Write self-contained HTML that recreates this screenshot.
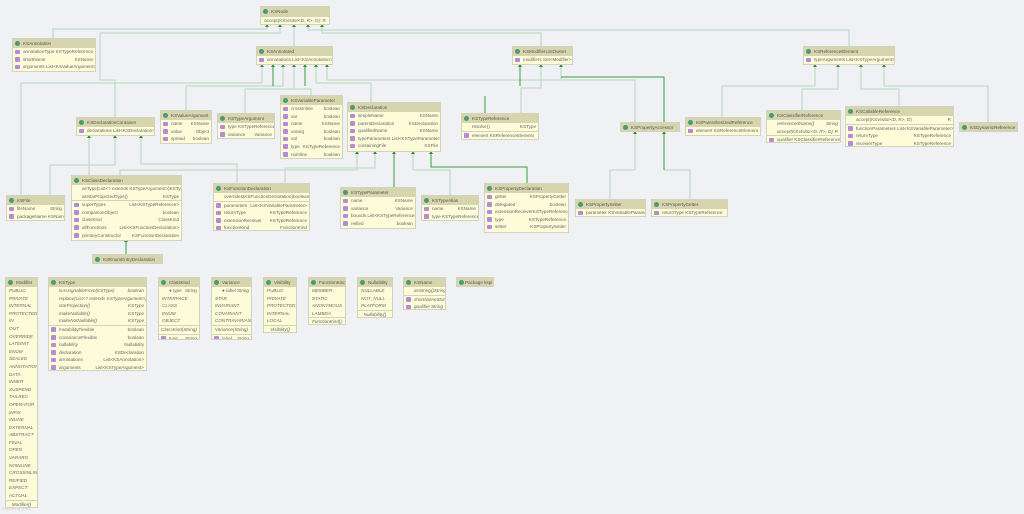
<!DOCTYPE html>
<html><head><meta charset="utf-8">
<style>
body{margin:0;width:1024px;height:514px;background:#eff1f5;position:relative;overflow:hidden;font-family:"Liberation Sans",sans-serif}
svg{position:absolute;left:0;top:0}
.b{position:absolute;background:#fdfcd9;border:1px solid #d3d3bc;font-size:4.6px;color:#666;overflow:hidden;box-sizing:border-box}
.h{background:#d7d5ad;height:9px;line-height:9px;padding-left:10px;position:relative;color:#555;white-space:nowrap}
.h::before{content:"";position:absolute;left:2px;top:2px;width:5px;height:5px;border-radius:50%;background:#4a9a7a}
.r{height:7.6px;line-height:7.6px;padding:0 2px 0 10px;display:flex;justify-content:space-between;position:relative;white-space:nowrap}
.r.p::before{content:"";position:absolute;left:2px;top:1.5px;width:4.5px;height:4.5px;border-radius:1px;background:#b58ad6}
.s{border-top:1px solid #d3d3bc}
.i{font-style:italic}
.c{justify-content:center;padding-left:2px}
</style></head><body>
<svg width="1024" height="514">
<g fill="none" stroke="#b5d8bc" stroke-width="1">
<polyline points="53,38 53,29 267,29 267,25"/>
<polyline points="100,33 280,33 280,25"/>
<polyline points="115,117 115,80 100,80 100,33"/>
<polyline points="294,46 294,25"/>
<polyline points="308,25 308,30 849,30 849,46"/>
<polyline points="322,25 322,33 541,33 541,46"/>
<polyline points="21,195 21,83 262,83 262,65"/>
<polyline points="186,110 186,86 283,86 283,65"/>
<polyline points="245,113 245,89 294,89 294,65"/>
<polyline points="311,95 311,89 294,89"/>
<polyline points="371,102 371,83 316,83 316,65"/>
<polyline points="327,65 327,80 560,80"/>
<polyline points="521,113 521,88 541,88 541,65"/>
<polyline points="635,122 635,80 561,80 561,65"/>
<polyline points="815,65 815,86 722,86 722,117"/>
<polyline points="838,65 838,89 802,89 802,110"/>
<polyline points="861,65 861,89 899,89 899,106"/>
<polyline points="884,65 884,86 988,86 988,122"/>
<polyline points="50,195 50,165 115,165 115,136"/>
<polyline points="89,175 89,136"/>
<polyline points="237,183 237,164 141,164 141,136"/>
<polyline points="357,152 357,170 120,170 120,175"/>
<polyline points="375,152 375,168 285,168 285,183"/>
<polyline points="413,152 413,170 450,170 450,195"/>
<polyline points="610,199 610,170 635,170 635,132"/>
<polyline points="690,199 690,170 664,170"/>
</g>
<g fill="none" stroke="#3a9e3a" stroke-width="1">
<polyline points="273,65 273,86"/>
<polyline points="305,65 305,86"/>
<polyline points="520,65 520,86"/>
<polyline points="561,77 664,77 664,122"/>
<polyline points="664,132 664,170"/>
<polyline points="394,152 394,187"/>
<polyline points="431,152 431,167 527,167 527,183"/>
<polyline points="126,240 126,254"/>
<polyline points="485,96 485,113"/>
</g>
<g fill="#2e8f2e">
<path d="M265,27l2,-3l2,3z M278,27l2,-3l2,3z M292,27l2,-3l2,3z M306,27l2,-3l2,3z M320,27l2,-3l2,3z"/>
<path d="M260,67l2,-3l2,3z M271,67l2,-3l2,3z M281,67l2,-3l2,3z M292,67l2,-3l2,3z M303,67l2,-3l2,3z M314,67l2,-3l2,3z M325,67l2,-3l2,3z"/>
<path d="M518,67l2,-3l2,3z M539,67l2,-3l2,3z M559,67l2,-3l2,3z"/>
<path d="M813,67l2,-3l2,3z M836,67l2,-3l2,3z M859,67l2,-3l2,3z M882,67l2,-3l2,3z"/>
<path d="M87,138l2,-3l2,3z M113,138l2,-3l2,3z M139,138l2,-3l2,3z"/>
<path d="M355,154l2,-3l2,3z M373,154l2,-3l2,3z M392,154l2,-3l2,3z M411,154l2,-3l2,3z M429,154l2,-3l2,3z"/>
<path d="M633,134l2,-3l2,3z M662,134l2,-3l2,3z M124,242l2,-3l2,3z"/>
</g>
</svg>

<div class="b" style="left:260px;top:6px;width:70px;height:19px"><div class="h">KSNode</div><div class="r c s">accept(KSVisitor&lt;D, R&gt;, D): R</div></div>
<div class="b" style="left:12px;top:38px;width:84px;height:34px"><div class="h">KSAnnotation</div><div class="r p"><span>annotationType</span><span>KSTypeReference</span></div><div class="r p"><span>shortName</span><span>KSName</span></div><div class="r p"><span>arguments List&lt;KSValueArgument&gt;</span></div></div>
<div class="b" style="left:256px;top:46px;width:77px;height:19px"><div class="h">KSAnnotated</div><div class="r p"><span>annotations List&lt;KSAnnotation&gt;</span></div></div>
<div class="b" style="left:512px;top:46px;width:61px;height:19px"><div class="h">KSModifierListOwner</div><div class="r p"><span>modifiers Set&lt;Modifier&gt;</span></div></div>
<div class="b" style="left:803px;top:46px;width:92px;height:19px"><div class="h">KSReferenceElement</div><div class="r p"><span>typeArguments List&lt;KSTypeArgument&gt;</span></div></div>
<div class="b" style="left:160px;top:110px;width:52px;height:34px"><div class="h">KSValueArgument</div><div class="r p"><span>name</span><span>KSName</span></div><div class="r p"><span>value</span><span>Object</span></div><div class="r p"><span>spread</span><span>boolean</span></div></div>
<div class="b" style="left:217px;top:113px;width:58px;height:26px"><div class="h">KSTypeArgument</div><div class="r p"><span>type KSTypeReference</span></div><div class="r p"><span>variance</span><span>Variance</span></div></div>
<div class="b" style="left:280px;top:95px;width:63px;height:64px"><div class="h">KSVariableParameter</div><div class="r p"><span>crossInline</span><span>boolean</span></div><div class="r p"><span>var</span><span>boolean</span></div><div class="r p"><span>name</span><span>KSName</span></div><div class="r p"><span>vararg</span><span>boolean</span></div><div class="r p"><span>val</span><span>boolean</span></div><div class="r p"><span>type</span><span>KSTypeReference</span></div><div class="r p"><span>noInline</span><span>boolean</span></div></div>
<div class="b" style="left:347px;top:102px;width:94px;height:50px"><div class="h">KSDeclaration</div><div class="r p"><span>simpleName</span><span>KSName</span></div><div class="r p"><span>parentDeclaration</span><span>KSDeclaration</span></div><div class="r p"><span>qualifiedName</span><span>KSName</span></div><div class="r p"><span>typeParameters List&lt;KSTypeParameter&gt;</span></div><div class="r p"><span>containingFile</span><span>KSFile</span></div></div>
<div class="b" style="left:461px;top:113px;width:78px;height:27px"><div class="h">KSTypeReference</div><div class="r"><span>resolve()</span><span>KSType</span></div><div class="r p s"><span>element KSReferenceElement</span></div></div>
<div class="b" style="left:76px;top:117px;width:79px;height:19px"><div class="h">KSDeclarationContainer</div><div class="r p"><span>declarations List&lt;KSDeclaration&gt;</span></div></div>
<div class="b" style="left:620px;top:122px;width:60px;height:10px"><div class="h">KSPropertyAccessor</div></div>
<div class="b" style="left:685px;top:117px;width:76px;height:19px"><div class="h">KSParenthesizedReference</div><div class="r p"><span>element</span><span>KSReferenceElement</span></div></div>
<div class="b" style="left:766px;top:110px;width:75px;height:33px"><div class="h">KSClassifierReference</div><div class="r i"><span>referencedName()</span><span>String</span></div><div class="r i"><span>accept(KSVisitor&lt;D, R&gt;, D)</span><span>R</span></div><div class="r p s"><span>qualifier KSClassifierReference</span></div></div>
<div class="b" style="left:845px;top:106px;width:109px;height:41px"><div class="h">KSCallableReference</div><div class="r"><span>accept(KSVisitor&lt;D, R&gt;, D)</span><span>R</span></div><div class="r p s"><span>functionParameters List&lt;KSVariableParameter&gt;</span></div><div class="r p"><span>returnType</span><span>KSTypeReference</span></div><div class="r p"><span>receiverType</span><span>KSTypeReference</span></div></div>
<div class="b" style="left:959px;top:122px;width:59px;height:10px"><div class="h">KSDynamicReference</div></div>
<div class="b" style="left:6px;top:195px;width:59px;height:26px"><div class="h">KSFile</div><div class="r p"><span>fileName</span><span>String</span></div><div class="r p"><span>packageName KSName</span></div></div>
<div class="b" style="left:71px;top:175px;width:111px;height:66px"><div class="h">KSClassDeclaration</div><div class="r"><span>asType(List&lt;? extends KSTypeArgument&gt;)</span><span>KSType</span></div><div class="r"><span>asStarProjectedType()</span><span>KSType</span></div><div class="r p s"><span>superTypes</span><span>List&lt;KSTypeReference&gt;</span></div><div class="r p"><span>companionObject</span><span>boolean</span></div><div class="r p"><span>classKind</span><span>ClassKind</span></div><div class="r p"><span>allFunctions</span><span>List&lt;KSFunctionDeclaration&gt;</span></div><div class="r p"><span>primaryConstructor</span><span>KSFunctionDeclaration</span></div></div>
<div class="b" style="left:92px;top:254px;width:71px;height:10px"><div class="h">KSEnumEntryDeclaration</div></div>
<div class="b" style="left:213px;top:183px;width:97px;height:48px"><div class="h">KSFunctionDeclaration</div><div class="r"><span>overrides(KSFunctionDeclaration)</span><span>boolean</span></div><div class="r p s"><span>parameters</span><span>List&lt;KSVariableParameter&gt;</span></div><div class="r p"><span>returnType</span><span>KSTypeReference</span></div><div class="r p"><span>extensionReceiver</span><span>KSTypeReference</span></div><div class="r p"><span>functionKind</span><span>FunctionKind</span></div></div>
<div class="b" style="left:340px;top:187px;width:76px;height:42px"><div class="h">KSTypeParameter</div><div class="r p"><span>name</span><span>KSName</span></div><div class="r p"><span>variance</span><span>Variance</span></div><div class="r p"><span>bounds List&lt;KSTypeReference&gt;</span></div><div class="r p"><span>reified</span><span>boolean</span></div></div>
<div class="b" style="left:421px;top:195px;width:58px;height:26px"><div class="h">KSTypeAlias</div><div class="r p"><span>name</span><span>KSName</span></div><div class="r p"><span>type KSTypeReference</span></div></div>
<div class="b" style="left:484px;top:183px;width:85px;height:50px"><div class="h">KSPropertyDeclaration</div><div class="r p"><span>getter</span><span>KSPropertyGetter</span></div><div class="r p"><span>delegated</span><span>boolean</span></div><div class="r p"><span>extensionReceiver</span><span>KSTypeReference</span></div><div class="r p"><span>type</span><span>KSTypeReference</span></div><div class="r p"><span>setter</span><span>KSPropertySetter</span></div></div>
<div class="b" style="left:575px;top:199px;width:71px;height:18px"><div class="h">KSPropertySetter</div><div class="r p"><span>parameter KSVariableParameter</span></div></div>
<div class="b" style="left:651px;top:199px;width:77px;height:18px"><div class="h">KSPropertyGetter</div><div class="r p"><span>returnType KSTypeReference</span></div></div>

<div class="b i" style="left:5px;top:277px;width:33px;height:231px"><div class="h" style="font-style:normal">Modifier</div>
<div class="r" style="padding-left:3px">PUBLIC</div><div class="r" style="padding-left:3px">PRIVATE</div><div class="r" style="padding-left:3px">INTERNAL</div><div class="r" style="padding-left:3px">PROTECTED</div><div class="r" style="padding-left:3px">IN</div><div class="r" style="padding-left:3px">OUT</div><div class="r" style="padding-left:3px">OVERRIDE</div><div class="r" style="padding-left:3px">LATEINIT</div><div class="r" style="padding-left:3px">ENUM</div><div class="r" style="padding-left:3px">SEALED</div><div class="r" style="padding-left:3px">ANNOTATION</div><div class="r" style="padding-left:3px">DATA</div><div class="r" style="padding-left:3px">INNER</div><div class="r" style="padding-left:3px">SUSPEND</div><div class="r" style="padding-left:3px">TAILREC</div><div class="r" style="padding-left:3px">OPERATOR</div><div class="r" style="padding-left:3px">INFIX</div><div class="r" style="padding-left:3px">INLINE</div><div class="r" style="padding-left:3px">EXTERNAL</div><div class="r" style="padding-left:3px">ABSTRACT</div><div class="r" style="padding-left:3px">FINAL</div><div class="r" style="padding-left:3px">OPEN</div><div class="r" style="padding-left:3px">VARARG</div><div class="r" style="padding-left:3px">NOINLINE</div><div class="r" style="padding-left:3px">CROSSINLINE</div><div class="r" style="padding-left:3px">REIFIED</div><div class="r" style="padding-left:3px">EXPECT</div><div class="r" style="padding-left:3px">ACTUAL</div><div class="r c s">Modifier()</div></div>
<div class="b" style="left:48px;top:277px;width:99px;height:94px"><div class="h">KSType</div><div class="r i"><span>isAssignableFrom(KSType)</span><span>boolean</span></div><div class="r i"><span>replace(List&lt;? extends KSTypeArgument&gt;)</span><span>KSType</span></div><div class="r i"><span>starProjection()</span><span>KSType</span></div><div class="r i"><span>makeNullable()</span><span>KSType</span></div><div class="r i"><span>makeNotNullable()</span><span>KSType</span></div><div class="r p s"><span>mutabilityFlexible</span><span>boolean</span></div><div class="r p"><span>covarianceFlexible</span><span>boolean</span></div><div class="r p"><span>nullability</span><span>Nullability</span></div><div class="r p"><span>declaration</span><span>KSDeclaration</span></div><div class="r p"><span>annotations</span><span>List&lt;KSAnnotation&gt;</span></div><div class="r p"><span>arguments</span><span>List&lt;KSTypeArgument&gt;</span></div></div>
<div class="b i" style="left:158px;top:277px;width:42px;height:63px"><div class="h" style="font-style:normal">ClassKind</div><div class="r"><span>● type</span><span>String</span></div><div class="r" style="padding-left:3px">INTERFACE</div><div class="r" style="padding-left:3px">CLASS</div><div class="r" style="padding-left:3px">ENUM</div><div class="r" style="padding-left:3px">OBJECT</div><div class="r c s">ClassKind(String)</div><div class="r p s"><span>type</span><span>String</span></div></div>
<div class="b i" style="left:211px;top:277px;width:41px;height:63px"><div class="h" style="font-style:normal">Variance</div><div class="r"><span>● label</span><span>String</span></div><div class="r" style="padding-left:3px">STAR</div><div class="r" style="padding-left:3px">INVARIANT</div><div class="r" style="padding-left:3px">COVARIANT</div><div class="r" style="padding-left:3px">CONTRAVARIANT</div><div class="r c s">Variance(String)</div><div class="r p s"><span>label</span><span>String</span></div></div>
<div class="b i" style="left:263px;top:277px;width:34px;height:56px"><div class="h" style="font-style:normal">Visibility</div><div class="r" style="padding-left:3px">PUBLIC</div><div class="r" style="padding-left:3px">PRIVATE</div><div class="r" style="padding-left:3px">PROTECTED</div><div class="r" style="padding-left:3px">INTERNAL</div><div class="r" style="padding-left:3px">LOCAL</div><div class="r c s">Visibility()</div></div>
<div class="b i" style="left:308px;top:277px;width:38px;height:48px"><div class="h" style="font-style:normal">FunctionKind</div><div class="r" style="padding-left:3px">MEMBER</div><div class="r" style="padding-left:3px">STATIC</div><div class="r" style="padding-left:3px">ANONYMOUS</div><div class="r" style="padding-left:3px">LAMBDA</div><div class="r c s">FunctionKind()</div></div>
<div class="b i" style="left:357px;top:277px;width:36px;height:41px"><div class="h" style="font-style:normal">Nullability</div><div class="r" style="padding-left:3px">NULLABLE</div><div class="r" style="padding-left:3px">NOT_NULL</div><div class="r" style="padding-left:3px">PLATFORM</div><div class="r c s">Nullability()</div></div>
<div class="b" style="left:403px;top:277px;width:43px;height:33px"><div class="h">KSName</div><div class="r i"><span>asString()</span><span>String</span></div><div class="r p s i"><span>shortName</span><span>String</span></div><div class="r p i"><span>qualifier</span><span>String</span></div></div>
<div class="b" style="left:456px;top:277px;width:38px;height:10px"><div class="h" style="padding-left:8px">Package  kspi</div></div>
<div style="position:absolute;left:2px;top:507px;font-size:3.5px;color:#ccc">Powered by yFiles</div>
</body></html>
